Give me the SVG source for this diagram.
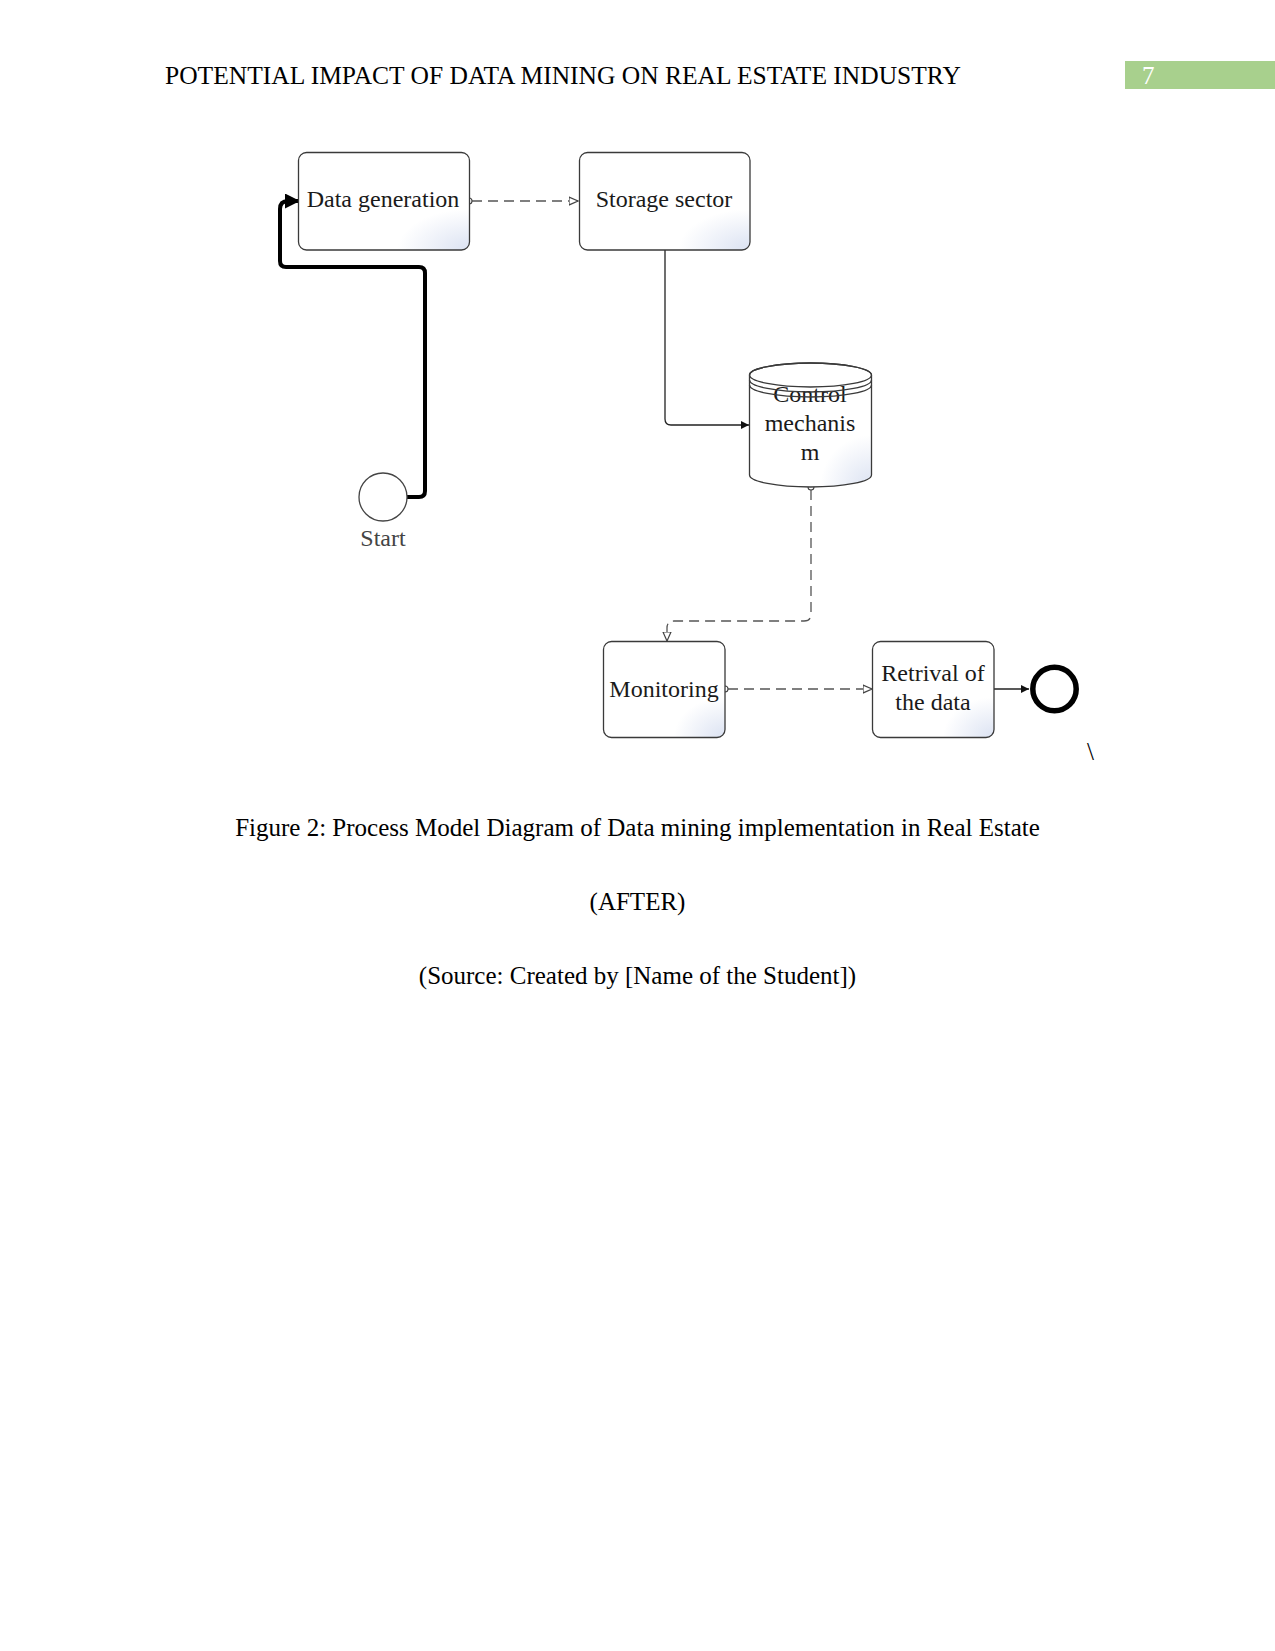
<svg xmlns="http://www.w3.org/2000/svg" width="1275" height="1651" viewBox="0 0 1275 1651">
  <style>
    .page { font-family: "Liberation Serif", "Times New Roman", serif; font-size: 25px; fill: #000; }
    .lbl { font-family: "Liberation Serif", "Times New Roman", serif; font-size: 24px; fill: #1a1a1a; text-anchor: middle; }
    .box { fill: url(#shade); stroke: #3a3a3a; stroke-width: 1.3; }
    .solid { fill: none; stroke: #222; stroke-width: 1.3; }
    .dash { fill: none; stroke: #555; stroke-width: 1.3; stroke-dasharray: 10 6; }
    .thick { fill: none; stroke: #000; stroke-width: 4; stroke-linejoin: round; }
    .dot { fill: #fff; stroke: #444; stroke-width: 1.1; }
  </style>
  <defs>
    <radialGradient id="shade" cx="1" cy="1" r="0.42">
      <stop offset="0" stop-color="#dbe2f2"/>
      <stop offset="1" stop-color="#ffffff"/>
    </radialGradient>
    <marker id="arrFill" viewBox="0 0 10 10" refX="10" refY="5" markerWidth="9" markerHeight="8" markerUnits="userSpaceOnUse" orient="auto">
      <path d="M0,0 L10,5 L0,10 z" fill="#111"/>
    </marker>
    <marker id="arrBig" viewBox="0 0 10 10" refX="10" refY="5" markerWidth="17" markerHeight="15" markerUnits="userSpaceOnUse" orient="auto">
      <path d="M0,0 L10,5 L0,10 z" fill="#000"/>
    </marker>
    <marker id="arrOpen" viewBox="0 0 10 10" refX="9.5" refY="5" markerWidth="10" markerHeight="10" markerUnits="userSpaceOnUse" orient="auto">
      <path d="M0.5,1 L9.5,5 L0.5,9 z" fill="#fff" stroke="#444" stroke-width="1.2"/>
    </marker>
  </defs>

  <rect width="1275" height="1651" fill="#fff"/>

  <!-- Header -->
  <g id="header">
    <text class="page" x="165" y="84" style="font-size:25.5px">POTENTIAL IMPACT OF DATA MINING ON REAL ESTATE INDUSTRY</text>
    <rect x="1125" y="61" width="150" height="28" fill="#a8d08d"/>
    <text class="page" x="1142" y="84" style="fill:#ffffff">7</text>
  </g>

  <!-- Connectors -->
  <g id="connectors">
    <path class="thick" d="M407,497 L419,497 Q425,497 425,491 L425,273 Q425,267 419,267 L286,267 Q280,267 280,261 L280,209 Q280,201 288,201 L300,201" marker-end="url(#arrBig)"/>
    <path class="dash" d="M472,201 L578,201" marker-end="url(#arrOpen)"/>
    <circle class="dot" cx="469" cy="201" r="3"/>
    <path class="solid" d="M665,250 L665,419 Q665,425 671,425 L749,425" marker-end="url(#arrFill)"/>
    <path class="dash" d="M811,490 L811,614 Q811,621 804,621 L674,621 Q667,621 667,628 L667,641" marker-end="url(#arrOpen)"/>
    <circle class="dot" cx="811" cy="487" r="3"/>
    <path class="dash" d="M728,689 L872,689" marker-end="url(#arrOpen)"/>
    <circle class="dot" cx="725" cy="689" r="3"/>
    <path class="solid" d="M994,689 L1029,689" marker-end="url(#arrFill)"/>
  </g>

  <!-- Nodes -->
  <g id="node-start">
    <circle cx="383" cy="497" r="24" fill="#fff" stroke="#444" stroke-width="1.3"/>
    <text class="lbl" x="383" y="546" style="fill:#444">Start</text>
  </g>

  <g id="node-data-generation">
    <rect class="box" x="298.5" y="152.5" width="171" height="97.5" rx="8"/>
    <text class="lbl" x="383" y="207">Data generation</text>
  </g>

  <g id="node-storage-sector">
    <rect class="box" x="579.5" y="152.5" width="170.5" height="97.5" rx="8"/>
    <text class="lbl" x="664" y="207">Storage sector</text>
  </g>

  <g id="node-control-mechanism">
    <path class="box" d="M749.5,375 L749.5,475 A61,12 0 0 0 871.5,475 L871.5,375 A61,12 0 0 0 749.5,375 Z"/>
    <text class="lbl" x="810" y="402">Control</text>
    <text class="lbl" x="810" y="431">mechanis</text>
    <text class="lbl" x="810" y="460">m</text>
    <ellipse cx="810.5" cy="375" rx="61" ry="12" fill="none" stroke="#3a3a3a" stroke-width="1.3"/>
    <path d="M749.5,380 A61,12 0 0 0 871.5,380" fill="none" stroke="#3a3a3a" stroke-width="1.3"/>
    <path d="M749.5,385 A61,12 0 0 0 871.5,385" fill="none" stroke="#3a3a3a" stroke-width="1.3"/>
  </g>

  <g id="node-monitoring">
    <rect class="box" x="603.5" y="641.5" width="121.5" height="96" rx="8"/>
    <text class="lbl" x="664" y="697">Monitoring</text>
  </g>

  <g id="node-retrival">
    <rect class="box" x="872.5" y="641.5" width="121.5" height="96" rx="8"/>
    <text class="lbl" x="933" y="681">Retrival of</text>
    <text class="lbl" x="933" y="710">the data</text>
  </g>

  <g id="node-end">
    <circle cx="1054.5" cy="689" r="21.7" fill="#fff" stroke="#000" stroke-width="5.5"/>
  </g>

  <text class="page" x="1087" y="760">\</text>

  <!-- Caption -->
  <g id="caption">
    <text class="page" x="637.5" y="836" text-anchor="middle">Figure 2: Process Model Diagram of Data mining implementation in Real Estate</text>
    <text class="page" x="637.5" y="910" text-anchor="middle">(AFTER)</text>
    <text class="page" x="637.5" y="984" text-anchor="middle">(Source: Created by [Name of the Student])</text>
  </g>
</svg>
